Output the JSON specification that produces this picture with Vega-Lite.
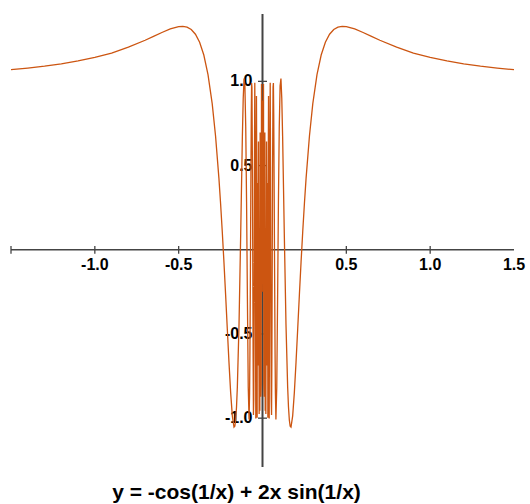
{
  "$schema": "https://vega.github.io/schema/vega-lite/v6.json",
  "width": 503,
  "height": 453,
  "autosize": {"type": "none"},
  "padding": {"left": 11, "top": 14, "right": 16, "bottom": 37},
  "background": "white",
  "config": {"view": {"stroke": null}},
  "title": {
    "text": "y = -cos(1/x) + 2x sin(1/x)",
    "orient": "bottom",
    "anchor": "middle",
    "offset": 14,
    "dx": -26,
    "font": "Liberation Sans",
    "fontSize": 21,
    "fontWeight": "bold",
    "color": "#000000"
  },
  "datasets": {
    "curve": [
      {"x": -1.5, "y": 1.0694}, {"x": -1.4, "y": 1.0787}, {"x": -1.3, "y": 1.09}, {"x": -1.2, "y": 1.104},
      {"x": -1.1, "y": 1.1217}, {"x": -1.0, "y": 1.1426}, {"x": -0.9, "y": 1.1675}, {"x": -0.8, "y": 1.2031},
      {"x": -0.7, "y": 1.244}, {"x": -0.65, "y": 1.267}, {"x": -0.6, "y": 1.2902}, {"x": -0.55, "y": 1.3113},
      {"x": -0.5, "y": 1.3254}, {"x": -0.475, "y": 1.3269}, {"x": -0.45, "y": 1.3224}, {"x": -0.425, "y": 1.3079},
      {"x": -0.4, "y": 1.2799}, {"x": -0.375, "y": 1.2323}, {"x": -0.35, "y": 1.1563}, {"x": -0.325, "y": 1.0399},
      {"x": -0.3, "y": 0.8674}, {"x": -0.28, "y": 0.6757}, {"x": -0.26, "y": 0.4253}, {"x": -0.25, "y": 0.2752},
      {"x": -0.24, "y": 0.1081}, {"x": -0.23, "y": -0.0728}, {"x": -0.22, "y": -0.2675}, {"x": -0.21, "y": -0.469},
      {"x": -0.2, "y": -0.6673}, {"x": -0.19, "y": -0.8468}, {"x": -0.18, "y": -0.9861}, {"x": -0.17, "y": -1.0535},
      {"x": -0.165, "y": -1.0482}, {"x": -0.16, "y": -1.01}, {"x": -0.155, "y": -0.9339}, {"x": -0.15, "y": -0.8152},
      {"x": -0.14, "y": -0.4403}, {"x": -0.13, "y": 0.0954}, {"x": -0.12, "y": 0.6742}, {"x": -0.115, "y": 0.899},
      {"x": -0.11, "y": 1.0169}, {"x": -0.105, "y": 0.9744}, {"x": -0.1, "y": 0.7303}, {"x": -0.095, "y": 0.2831},
      {"x": -0.09, "y": -0.2941}, {"x": -0.085, "y": -0.8176}, {"x": -0.08, "y": -1.0084}, {"x": -0.077, "y": -0.8499},
      {"x": -0.075, "y": -0.6159}, {"x": -0.072, "y": -0.1061}, {"x": -0.07, "y": 0.2864}, {"x": -0.067, "y": 0.8037},
      {"x": -0.065, "y": 0.9895}, {"x": -0.063, "y": 0.9657}, {"x": -0.06, "y": 0.4764}, {"x": -0.058, "y": -0.0785},
      {"x": -0.056, "y": -0.6393}, {"x": -0.054, "y": -0.9808}, {"x": -0.052, "y": -0.8895}, {"x": -0.05, "y": -0.3168},
      {"x": -0.048, "y": 0.4892}, {"x": -0.046, "y": 0.9913}, {"x": -0.044, "y": 0.682}, {"x": -0.042, "y": -0.3264},
      {"x": -0.04, "y": -1.0018}, {"x": -0.038, "y": -0.3075}, {"x": -0.036, "y": 0.9133}, {"x": -0.034, "y": 0.3584},
      {"x": -0.032, "y": -0.9969}, {"x": -0.03, "y": 0.3961}, {"x": -0.028, "y": 0.3511}, {"x": -0.026, "y": -0.6872},
      {"x": -0.024, "y": 0.6425}, {"x": -0.022, "y": -0.0547}, {"x": -0.02, "y": -0.9755}, {"x": -0.018, "y": -0.5751},
      {"x": -0.016, "y": -0.9558}, {"x": -0.014, "y": 0.6968}, {"x": -0.012, "y": 0.1049}, {"x": -0.01, "y": -0.8724},
      {"x": -0.008, "y": -0.7976}, {"x": -0.006, "y": 0.985}, {"x": -0.004, "y": -0.2488}, {"x": -0.002, "y": 0.882},
      {"x": 0.002, "y": 0.882}, {"x": 0.004, "y": -0.2488}, {"x": 0.006, "y": 0.985}, {"x": 0.008, "y": -0.7976},
      {"x": 0.01, "y": -0.8724}, {"x": 0.012, "y": 0.1049}, {"x": 0.014, "y": 0.6968}, {"x": 0.016, "y": -0.9558},
      {"x": 0.018, "y": -0.5751}, {"x": 0.02, "y": -0.9755}, {"x": 0.022, "y": -0.0547}, {"x": 0.024, "y": 0.6425},
      {"x": 0.026, "y": -0.6872}, {"x": 0.028, "y": 0.3511}, {"x": 0.03, "y": 0.3961}, {"x": 0.032, "y": -0.9969},
      {"x": 0.034, "y": 0.3584}, {"x": 0.036, "y": 0.9133}, {"x": 0.038, "y": -0.3075}, {"x": 0.04, "y": -1.0018},
      {"x": 0.042, "y": -0.3264}, {"x": 0.044, "y": 0.682}, {"x": 0.046, "y": 0.9913}, {"x": 0.048, "y": 0.4892},
      {"x": 0.05, "y": -0.3168}, {"x": 0.052, "y": -0.8895}, {"x": 0.054, "y": -0.9808}, {"x": 0.056, "y": -0.6393},
      {"x": 0.058, "y": -0.0785}, {"x": 0.06, "y": 0.4764}, {"x": 0.063, "y": 0.9657}, {"x": 0.065, "y": 0.9895},
      {"x": 0.067, "y": 0.8037}, {"x": 0.07, "y": 0.2864}, {"x": 0.072, "y": -0.1061}, {"x": 0.075, "y": -0.6159},
      {"x": 0.077, "y": -0.8499}, {"x": 0.08, "y": -1.0084}, {"x": 0.085, "y": -0.8176}, {"x": 0.09, "y": -0.2941},
      {"x": 0.095, "y": 0.2831}, {"x": 0.1, "y": 0.7303}, {"x": 0.105, "y": 0.9744}, {"x": 0.11, "y": 1.0169},
      {"x": 0.115, "y": 0.899}, {"x": 0.12, "y": 0.6742}, {"x": 0.13, "y": 0.0954}, {"x": 0.14, "y": -0.4403},
      {"x": 0.15, "y": -0.8152}, {"x": 0.155, "y": -0.9339}, {"x": 0.16, "y": -1.01}, {"x": 0.165, "y": -1.0482},
      {"x": 0.17, "y": -1.0535}, {"x": 0.18, "y": -0.9861}, {"x": 0.19, "y": -0.8468}, {"x": 0.2, "y": -0.6673},
      {"x": 0.21, "y": -0.469}, {"x": 0.22, "y": -0.2675}, {"x": 0.23, "y": -0.0728}, {"x": 0.24, "y": 0.1081},
      {"x": 0.25, "y": 0.2752}, {"x": 0.26, "y": 0.4253}, {"x": 0.28, "y": 0.6757}, {"x": 0.3, "y": 0.8674},
      {"x": 0.325, "y": 1.0399}, {"x": 0.35, "y": 1.1563}, {"x": 0.375, "y": 1.2323}, {"x": 0.4, "y": 1.2799},
      {"x": 0.425, "y": 1.3079}, {"x": 0.45, "y": 1.3224}, {"x": 0.475, "y": 1.3269}, {"x": 0.5, "y": 1.3254},
      {"x": 0.55, "y": 1.3113}, {"x": 0.6, "y": 1.2902}, {"x": 0.65, "y": 1.267}, {"x": 0.7, "y": 1.244},
      {"x": 0.8, "y": 1.2031}, {"x": 0.9, "y": 1.1675}, {"x": 1.0, "y": 1.1426}, {"x": 1.1, "y": 1.1217},
      {"x": 1.2, "y": 1.104}, {"x": 1.3, "y": 1.09}, {"x": 1.4, "y": 1.0787}, {"x": 1.5, "y": 1.0694}
    ],
    "xticks": [{"v": -1.5}, {"v": -1.0}, {"v": -0.5}, {"v": 0.5}, {"v": 1.0}],
    "xlabels": [{"v": -1.0, "t": "-1.0"}, {"v": -0.5, "t": "-0.5"}, {"v": 0.5, "t": "0.5"}, {"v": 1.0, "t": "1.0"}, {"v": 1.5, "t": "1.5"}],
    "ylabels": [{"v": -1.0, "t": "-1.0"}, {"v": -0.5, "t": "-0.5"}, {"v": 0.5, "t": "0.5"}, {"v": 1.0, "t": "1.0"}]
  },
  "layer": [
    {
      "data": {"values": [{"a": 1}]},
      "mark": {"type": "rule", "color": "#444444", "strokeWidth": 1.6},
      "encoding": {
        "x": {"datum": -1.5, "type": "quantitative", "scale": {"domain": [-1.5, 1.5], "nice": false, "zero": false}, "axis": null},
        "x2": {"datum": 1.5},
        "y": {"datum": 0, "type": "quantitative", "scale": {"domain": [-1.29, 1.4], "nice": false, "zero": false}, "axis": null}
      }
    },
    {
      "data": {"values": [{"a": 1}]},
      "mark": {"type": "rule", "color": "#444444", "strokeWidth": 2},
      "encoding": {
        "x": {"datum": 0, "type": "quantitative"},
        "y": {"datum": -1.29, "type": "quantitative"},
        "y2": {"datum": 1.4}
      }
    },
    {
      "data": {"name": "xticks"},
      "mark": {"type": "rule", "color": "#444444", "strokeWidth": 1.3},
      "encoding": {
        "x": {"field": "v", "type": "quantitative"},
        "y": {"datum": -0.023, "type": "quantitative"},
        "y2": {"datum": 0.023}
      }
    },
    {
      "data": {"name": "ylabels"},
      "mark": {"type": "rule", "color": "#444444", "strokeWidth": 1.3},
      "encoding": {
        "y": {"field": "v", "type": "quantitative"},
        "x": {"datum": -0.027, "type": "quantitative"},
        "x2": {"datum": 0.027}
      }
    },
    {
      "data": {"name": "xlabels"},
      "mark": {"type": "text", "font": "Liberation Sans", "fontSize": 16, "fontWeight": "bold", "color": "#000000", "align": "center", "baseline": "top", "dy": 7},
      "encoding": {
        "x": {"field": "v", "type": "quantitative"},
        "y": {"datum": 0, "type": "quantitative"},
        "text": {"field": "t", "type": "nominal"}
      }
    },
    {
      "data": {"name": "ylabels"},
      "mark": {"type": "text", "font": "Liberation Sans", "fontSize": 16, "fontWeight": "bold", "color": "#000000", "align": "right", "baseline": "middle", "dx": -10},
      "encoding": {
        "y": {"field": "v", "type": "quantitative"},
        "x": {"datum": 0, "type": "quantitative"},
        "text": {"field": "t", "type": "nominal"}
      }
    },
    {
      "data": {"name": "curve"},
      "mark": {"type": "line", "color": "#cc5511", "strokeWidth": 1.3, "clip": true},
      "encoding": {
        "x": {"field": "x", "type": "quantitative"},
        "y": {"field": "y", "type": "quantitative"}
      }
    }
  ]
}
